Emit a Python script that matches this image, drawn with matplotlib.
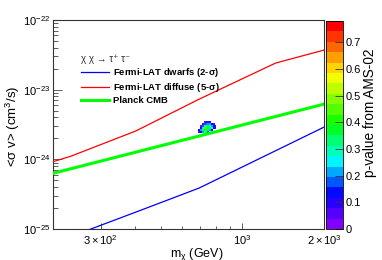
import numpy as np
import matplotlib
matplotlib.use('Agg')
import matplotlib.pyplot as plt
from matplotlib.colors import LinearSegmentedColormap, ListedColormap, Normalize

plt.rcParams['font.family'] = ['Liberation Sans', 'DejaVu Sans']
plt.rcParams['mathtext.fontset'] = 'custom'
plt.rcParams['mathtext.rm'] = 'Liberation Sans'
plt.rcParams['mathtext.it'] = 'Liberation Sans:italic'
plt.rcParams['mathtext.default'] = 'regular'

# ── Data ──────────────────────────────────────────────────────────────────────
dwarf_mass = [250, 276, 414, 692, 2000]
dwarf_sigv = [8.66e-26, 1.0e-25, 1.81e-25, 3.87e-25, 2.9e-24]

diffuse_mass = [200, 233, 404, 692, 1326, 2000]
diffuse_sigv = [9.25e-25, 1.11e-24, 2.55e-24, 7.3e-24, 2.41e-23, 3.7e-23]

cmb_mass = [200, 2000]
cmb_sigv = [6.3e-25, 6.2e-24]

# AMS-02 p-value scan (rows: sigma v bins bottom -> top, cols: mass bins)
blob_mass_edges = [688, 700, 712, 724, 737, 750, 763, 776, 789, 802]
blob_sigv_edges = [2.40e-24, 2.56e-24, 2.73e-24, 2.91e-24, 3.10e-24, 3.31e-24, 3.53e-24]
nan = np.nan
blob_pval = [
    [0.04, 0.12, 0.22, 0.28, 0.18, nan,  nan,  nan,  nan],
    [0.08, 0.22, 0.36, 0.42, 0.34, 0.22, 0.10, nan,  nan],
    [nan,  0.14, 0.30, 0.45, 0.40, 0.33, 0.24, 0.12, 0.06],
    [nan,  0.03, 0.18, 0.30, 0.38, 0.31, 0.22, 0.14, 0.08],
    [nan,  nan,  0.07, 0.16, 0.22, 0.20, 0.12, 0.05, nan],
    [nan,  nan,  nan,  0.04, 0.09, 0.06, nan,  nan,  nan],
]
pval_max = 0.78

xticks = [300, 1000, 2000]
xticklabels = [r'$3\times10^{2}$', r'$10^{3}$', r'$2\times10^{3}$']
cb_ticks = [0, 0.1, 0.2, 0.3, 0.4, 0.5, 0.6, 0.7]

# ── ROOT-like rainbow palette, 20 contour levels ─────────────────────────────
base = LinearSegmentedColormap.from_list('rootpal', [
    (0.00, '#8000ff'), (0.15, '#0000ff'), (0.32, '#00ffff'),
    (0.50, '#00ff00'), (0.75, '#ffff00'), (1.00, '#ff0000')])
cmap = ListedColormap(base(np.linspace(0.0, 1.0, 20)))
norm = Normalize(vmin=0, vmax=pval_max)

# ── Figure ───────────────────────────────────────────────────────────────────
fig = plt.figure(figsize=(3.82, 2.60), dpi=100)
ax = fig.add_axes([53/382, 31/260, 271/382, 209/260])
cax = fig.add_axes([326/382, 31/260, 17/382, 208/260])

mesh = ax.pcolormesh(blob_mass_edges, blob_sigv_edges,
                     np.ma.masked_invalid(np.array(blob_pval)),
                     cmap=cmap, norm=norm, zorder=1)

l_dw, = ax.plot(dwarf_mass, dwarf_sigv, color='#0000ff', lw=0.9, zorder=3)
l_df, = ax.plot(diffuse_mass, diffuse_sigv, color='#ff0000', lw=0.9, zorder=3)
l_cmb, = ax.plot(cmb_mass, cmb_sigv, color='#00ff00', lw=2.2, zorder=3)

ax.set_xscale('log')
ax.set_yscale('log')
ax.set_xlim(200, 2000)
ax.set_ylim(1e-25, 1e-22)

ax.set_xticks(xticks)
ax.set_xticklabels(xticklabels)
ax.set_xticks([400, 500, 600, 700, 800, 900], minor=True)
ax.xaxis.set_minor_formatter(plt.NullFormatter())
ax.tick_params(axis='x', which='major', direction='in', length=4.5, width=0.6,
               labelsize=8, pad=3, color='#444444')
ax.tick_params(axis='x', which='minor', direction='in', length=2.5, width=0.6,
               color='#444444')
ax.tick_params(axis='y', which='major', direction='in', length=6.5, width=0.6,
               labelsize=8, pad=2, color='#444444')
ax.tick_params(axis='y', which='minor', direction='in', length=3.5, width=0.6,
               color='#444444')
for sp in ax.spines.values():
    sp.set_linewidth(0.8)
    sp.set_color('#333333')

ax.set_xlabel(r'm$_{\chi}$ (GeV)', fontsize=9)
ax.xaxis.set_label_coords(0.531, -0.08)
ax.set_ylabel(r'<$\sigma$ v> (cm$^{3}$/s)', fontsize=9.5)
ax.yaxis.set_label_coords(-0.115, 0.49)

leg = ax.legend([l_dw, l_df, l_cmb],
                [r'Fermi-LAT dwarfs (2-$\sigma$)', r'Fermi-LAT diffuse (5-$\sigma$)',
                 'Planck CMB'],
                title='χ χ → τ⁺ τ⁻', loc='upper left',
                bbox_to_anchor=(0.105, 0.835), frameon=False,
                prop={'size': 6.8, 'weight': 'bold'},
                title_fontproperties={'size': 7},
                handlelength=2.9, handletextpad=0.45, labelspacing=0.2,
                borderpad=0, borderaxespad=0)
leg._legend_box.align = 'left'
leg.get_title().set_color('#333333')

cb = fig.colorbar(mesh, cax=cax)
cb.set_ticks(cb_ticks)
cb.set_ticklabels(['0', '0.1', '0.2', '0.3', '0.4', '0.5', '0.6', '0.7'])
cb.ax.tick_params(direction='in', length=6, width=0.6, labelsize=8, pad=2,
                  color='#333333')
cb.outline.set_linewidth(0.6)
cb.set_label('p-value from AMS-02', fontsize=9.8)
cb.ax.yaxis.set_label_coords(2.2, 0.56)

plt.savefig('out.png', dpi=100)
